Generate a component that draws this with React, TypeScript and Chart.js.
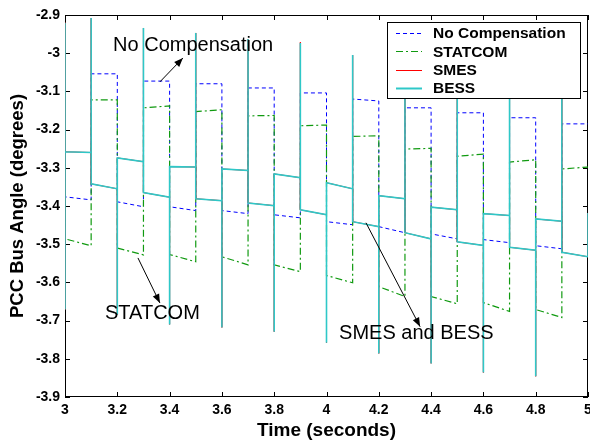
import { useEffect, useRef } from 'react';
import { Chart, registerables } from 'chart.js';

Chart.register(...registerables);

// ---- data ----
const boundaries = [3.0, 3.1, 3.2, 3.3, 3.4, 3.5, 3.6, 3.7, 3.8, 3.9, 4.0, 4.1, 4.2, 4.3, 4.4, 4.5, 4.6, 4.7, 4.8, 4.9, 5.0];

const noCompBefore = -3.04;
const noCompStart = [-3.376, -3.054, -3.389, -3.073, -3.402, -3.080, -3.412, -3.091, -3.423, -3.104, -3.441, -3.120, -3.454, -3.143, -3.473, -3.156, -3.488, -3.169, -3.504, -3.185];
const noCompEnd = [-3.384, -3.054, -3.402, -3.073, -3.412, -3.080, -3.420, -3.091, -3.431, -3.104, -3.449, -3.125, -3.470, -3.143, -3.486, -3.156, -3.496, -3.169, -3.512, -3.185];

const statcomBefore = -3.10;
const statcomStart = [-3.486, -3.122, -3.510, -3.143, -3.527, -3.153, -3.533, -3.164, -3.554, -3.190, -3.582, -3.218, -3.611, -3.251, -3.637, -3.270, -3.653, -3.285, -3.671, -3.303];
const statcomEnd = [-3.504, -3.122, -3.528, -3.138, -3.546, -3.148, -3.554, -3.163, -3.572, -3.188, -3.601, -3.216, -3.637, -3.249, -3.656, -3.264, -3.676, -3.279, -3.692, -3.298];

const bessBefore = -2.92;
const bessStart = [-3.258, -3.342, -3.274, -3.365, -3.297, -3.381, -3.303, -3.392, -3.316, -3.410, -3.339, -3.441, -3.373, -3.470, -3.403, -3.494, -3.420, -3.508, -3.434, -3.521];
const bessEnd = [-3.260, -3.355, -3.284, -3.377, -3.298, -3.386, -3.307, -3.399, -3.326, -3.423, -3.355, -3.454, -3.381, -3.486, -3.410, -3.503, -3.425, -3.516, -3.440, -3.533];
const bessSpikes = [-3.671, -2.908, -3.684, -2.934, -3.710, -2.947, -3.718, -2.963, -3.729, -2.973, -3.758, -3.005, -3.786, -3.020, -3.812, -3.035, -3.836, -3.050, -3.846, -3.065, -3.418];

const smesBefore = -2.92;
const smesStart = [-3.258, -3.342, -3.274, -3.365, -3.297, -3.381, -3.303, -3.392, -3.316, -3.410, -3.339, -3.441, -3.373, -3.470, -3.403, -3.494, -3.420, -3.508, -3.434, -3.521];
const smesEnd = [-3.260, -3.355, -3.284, -3.377, -3.298, -3.386, -3.307, -3.399, -3.326, -3.423, -3.355, -3.454, -3.381, -3.486, -3.410, -3.503, -3.425, -3.516, -3.440, -3.533];
const smesSpikes = [-3.671, -2.908, -3.684, -2.934, -3.710, -2.947, -3.718, -2.963, -3.729, -2.971, -3.758, -3.005, -3.786, -3.020, -3.812, -3.035, -3.836, -3.050, -3.846, -3.065, -3.418];

const seriesNames = ['No Compensation', 'STATCOM', 'SMES', 'BESS'];

const xTickValues = [3, 3.2, 3.4, 3.6, 3.8, 4, 4.2, 4.4, 4.6, 4.8, 5];
const xTickLabels = ['3', '3.2', '3.4', '3.6', '3.8', '4', '4.2', '4.4', '4.6', '4.8', '5'];
const yTickValues = [-3.9, -3.8, -3.7, -3.6, -3.5, -3.4, -3.3, -3.2, -3.1, -3, -2.9];
const yTickLabels = ['-3.9', '-3.8', '-3.7', '-3.6', '-3.5', '-3.4', '-3.3', '-3.2', '-3.1', '-3', '-2.9'];

const annotationTexts = ['No Compensation', 'STATCOM', 'SMES and BESS'];

// ---- styling / layout ----
const FONT = '"Liberation Sans", Arial, sans-serif';
const COLORS = ['#0000ff', '#109a10', '#ff0000', '#2ec8c8'];
const DASHES: number[][] = [[4, 3], [7, 3, 2, 3], [], []];
const WIDTHS = [1, 1.2, 1, 1.6];

// annotation placement in data coordinates
const ANN = [
  { tx: 3.184, ty: -2.980, from: [3.363, -3.075], to: [3.451, -3.0125] },
  { tx: 3.153, ty: -3.681, from: [3.279, -3.536], to: [3.363, -3.654] },
  { tx: 4.048, ty: -3.733, from: [4.151, -3.444], to: [4.358, -3.716] },
];

function buildSeries(before: number, starts: number[], ends: number[], spikes?: number[]) {
  const pts: { x: number; y: number }[] = [{ x: boundaries[0], y: before }];
  for (let i = 0; i < starts.length; i++) {
    if (spikes) pts.push({ x: boundaries[i], y: spikes[i] });
    pts.push({ x: boundaries[i], y: starts[i] });
    pts.push({ x: boundaries[i + 1], y: ends[i] });
  }
  if (spikes) pts.push({ x: boundaries[boundaries.length - 1], y: spikes[spikes.length - 1] });
  return pts;
}

const framePlugin = {
  id: 'frame',
  beforeDatasetsDraw(chart: any) {
    const { ctx, chartArea: a, scales } = chart;
    ctx.save();
    ctx.strokeStyle = '#000';
    ctx.lineWidth = 1;
    ctx.strokeRect(Math.round(a.left) + 0.5, Math.round(a.top) + 0.5, Math.round(a.right - a.left) - 1, Math.round(a.bottom - a.top) - 1);
    const tl = 5;
    ctx.beginPath();
    xTickValues.forEach((v) => {
      const x = Math.round(scales.x.getPixelForValue(v)) + 0.5;
      ctx.moveTo(x, a.bottom);
      ctx.lineTo(x, a.bottom - tl);
      ctx.moveTo(x, a.top);
      ctx.lineTo(x, a.top + tl);
    });
    yTickValues.forEach((v) => {
      const y = Math.round(scales.y.getPixelForValue(v)) + 0.5;
      ctx.moveTo(a.left, y);
      ctx.lineTo(a.left + tl, y);
      ctx.moveTo(a.right, y);
      ctx.lineTo(a.right - tl, y);
    });
    ctx.stroke();
    ctx.restore();
  },
};

const overlayPlugin = {
  id: 'overlay',
  afterDatasetsDraw(chart: any) {
    const { ctx, chartArea: a, scales } = chart;
    ctx.save();
    // legend box
    const bx = a.right - 201, by = a.top + 7, bw = 193, bh = 76;
    ctx.fillStyle = '#fff';
    ctx.fillRect(bx, by, bw, bh);
    ctx.strokeStyle = '#000';
    ctx.lineWidth = 1;
    ctx.strokeRect(bx + 0.5, by + 0.5, bw, bh);
    ctx.font = `bold 15.5px ${FONT}`;
    ctx.textBaseline = 'middle';
    ctx.textAlign = 'left';
    seriesNames.forEach((name, i) => {
      const y = by + 11 + i * 18.4;
      ctx.save();
      ctx.strokeStyle = COLORS[i];
      ctx.lineWidth = i === 3 ? 2 : WIDTHS[i];
      ctx.setLineDash(DASHES[i]);
      ctx.beginPath();
      ctx.moveTo(bx + 9, Math.round(y) + 0.5);
      ctx.lineTo(bx + 35, Math.round(y) + 0.5);
      ctx.stroke();
      ctx.restore();
      ctx.fillStyle = '#000';
      ctx.fillText(name, bx + 46, y + 1);
    });
    // annotations
    ctx.font = `20px ${FONT}`;
    ctx.fillStyle = '#000';
    ctx.strokeStyle = '#000';
    ctx.lineWidth = 1;
    ANN.forEach((an, i) => {
      const tx = scales.x.getPixelForValue(an.tx);
      const ty = scales.y.getPixelForValue(an.ty);
      ctx.fillText(annotationTexts[i], tx, ty);
      const x1 = scales.x.getPixelForValue(an.from[0]);
      const y1 = scales.y.getPixelForValue(an.from[1]);
      const x2 = scales.x.getPixelForValue(an.to[0]);
      const y2 = scales.y.getPixelForValue(an.to[1]);
      ctx.beginPath();
      ctx.moveTo(x1, y1);
      ctx.lineTo(x2, y2);
      ctx.stroke();
      const ang = Math.atan2(y2 - y1, x2 - x1);
      const L = 9, W = 3.5;
      ctx.beginPath();
      ctx.moveTo(x2, y2);
      ctx.lineTo(x2 - L * Math.cos(ang) + W * Math.sin(ang), y2 - L * Math.sin(ang) - W * Math.cos(ang));
      ctx.lineTo(x2 - L * Math.cos(ang) - W * Math.sin(ang), y2 - L * Math.sin(ang) + W * Math.cos(ang));
      ctx.closePath();
      ctx.fill();
    });
    ctx.restore();
  },
};

export default function App() {
  const ref = useRef<HTMLCanvasElement>(null);
  useEffect(() => {
    const datasets = [
      buildSeries(noCompBefore, noCompStart, noCompEnd),
      buildSeries(statcomBefore, statcomStart, statcomEnd),
      buildSeries(smesBefore, smesStart, smesEnd, smesSpikes),
      buildSeries(bessBefore, bessStart, bessEnd, bessSpikes),
    ].map((data, i) => ({
      label: seriesNames[i],
      data,
      borderColor: COLORS[i],
      backgroundColor: COLORS[i],
      borderWidth: WIDTHS[i],
      borderDash: DASHES[i],
      pointRadius: 0,
      tension: 0,
      fill: false,
      order: 3 - i,
    }));
    const tickFont = { family: FONT, size: 14, weight: 'bold' as const };
    const chart = new Chart(ref.current!, {
      type: 'line',
      data: { datasets },
      options: {
        responsive: false,
        devicePixelRatio: 1,
        animation: false,
        events: [],
        layout: { padding: { top: 15, right: 2, left: 0, bottom: 0 } },
        plugins: { legend: { display: false }, tooltip: { enabled: false }, title: { display: false } },
        scales: {
          x: {
            type: 'linear',
            min: 3,
            max: 5,
            afterBuildTicks: (s: any) => { s.ticks = xTickValues.map((v) => ({ value: v })); },
            afterFit: (s: any) => { s.height = 46; s.paddingLeft = 0; s.paddingRight = 0; },
            grid: { display: false, drawTicks: false },
            border: { display: false },
            ticks: {
              autoSkip: false, maxRotation: 0, padding: 5, color: '#000', font: tickFont,
              callback: (_v: any, i: number) => xTickLabels[i],
            },
            title: {
              display: true, text: 'Time (seconds)', color: '#000',
              font: { family: FONT, size: 19, weight: 'bold' }, padding: { top: 0, bottom: 1 },
            },
          },
          y: {
            type: 'linear',
            min: -3.9,
            max: -2.9,
            afterBuildTicks: (s: any) => { s.ticks = yTickValues.map((v) => ({ value: v })); },
            afterFit: (s: any) => { s.width = 65; s.paddingTop = 0; s.paddingBottom = 0; },
            grid: { display: false, drawTicks: false },
            border: { display: false },
            ticks: {
              autoSkip: false, padding: 5, color: '#000', font: tickFont,
              callback: (_v: any, i: number) => yTickLabels[i],
            },
            title: {
              display: true, text: 'PCC Bus Angle (degrees)', color: '#000',
              font: { family: FONT, size: 18.5, weight: 'bold' }, padding: { top: 7, bottom: 0 },
            },
          },
        },
      },
      plugins: [framePlugin, overlayPlugin],
    } as any);
    return () => chart.destroy();
  }, []);
  return (
    <div style={{ position: 'fixed', left: 0, top: 0, width: 590, height: 443, background: '#fff' }}>
      <canvas ref={ref} width={590} height={443} style={{ display: 'block', width: 590, height: 443 }} />
    </div>
  );
}
